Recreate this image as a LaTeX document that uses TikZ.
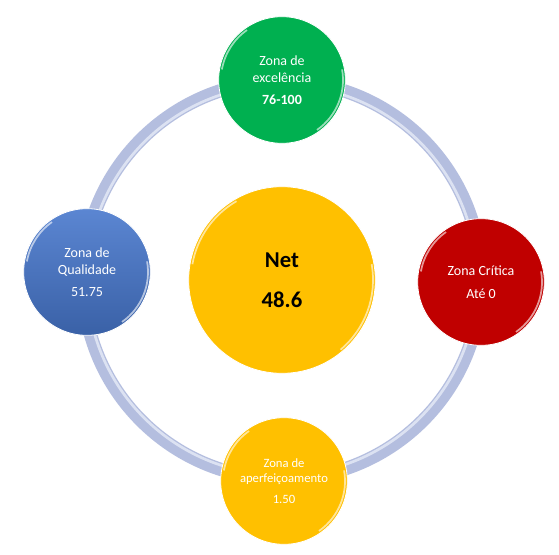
\documentclass[tikz,border=0pt]{standalone}
\usepackage{fontspec}
\setmainfont{Carlito}
\usetikzlibrary{positioning}

\definecolor{verde}{HTML}{00B050}
\definecolor{azul}{HTML}{4472C4}
\definecolor{azulclaro}{HTML}{5B86D2}
\definecolor{vermelho}{HTML}{C00000}
\definecolor{amarelo}{HTML}{FFC000}
\definecolor{anel}{HTML}{B4BEDF}
\definecolor{anelclaro}{HTML}{DCE2F2}

\begin{document}
\begin{tikzpicture}[
    x=0.75pt, y=-0.75pt,
    zona/.style={
        circle, draw=white, line width=0.6pt,
        minimum size=95pt, inner sep=0pt,
        text=white, font=\fontsize{10.5}{12.5}\selectfont,
        align=center
    },
    centro/.style={
        circle, draw=white, line width=0.6pt,
        minimum size=140pt, inner sep=0pt,
        fill=amarelo, font=\fontsize{17}{20}\selectfont\bfseries,
        align=center
    },
    brilho/.style={white, opacity=0.6, line width=1.3pt},
]

% Fundo
\useasboundingbox[fill=white] (0,0) rectangle (559,555);

% Anel
\coordinate (meio) at (282,280);
\draw[anel, line width=10pt] (meio) circle (199);
\draw[anelclaro, line width=2pt] (meio) circle (195);

% Circulo central
\node[centro] (net) at (282,280) {Net\\[10pt]48.6};

% Zonas
\node[zona, fill=verde] (excel) at (282,80)
    {Zona de\\excelência\\[4pt]\textbf{76-100}};
\node[zona, top color=azulclaro, bottom color=azul!85!black] (qual) at (87,272)
    {Zona de\\Qualidade\\[4pt]51.75};
\node[zona, fill=vermelho] (crit) at (481,282)
    {Zona Crítica\\[5pt]Até 0};
\node[zona, fill=amarelo, font=\fontsize{9.5}{11.5}\selectfont] (aperf) at (284,481)
    {Zona de\\aperfeiçoamento\\[4pt]1.50};

% Brilhos nas bordas
\foreach \c in {excel, qual, crit, aperf}
    \draw[brilho] (\c.center) ++(-10:61) arc[start angle=-10, end angle=55, radius=61];
\foreach \c in {excel, qual, crit, aperf}
    \draw[brilho] (\c.center) ++(190:61) arc[start angle=190, end angle=235, radius=61];
\draw[brilho] (net.center) ++(-10:91) arc[start angle=-10, end angle=50, radius=91];
\draw[brilho] (net.center) ++(190:91) arc[start angle=190, end angle=240, radius=91];

\end{tikzpicture}
\end{document}
